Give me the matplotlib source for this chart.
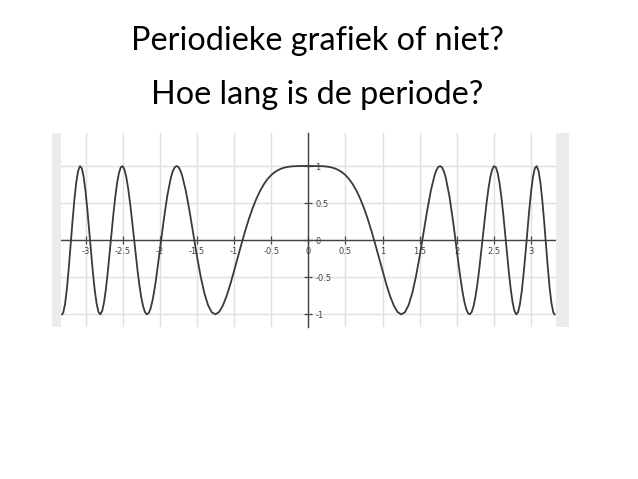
"""Slide: periodic graph question with a cosine-like curve."""

import matplotlib

matplotlib.use("Agg")
import matplotlib.pyplot as plt
from matplotlib.patches import Rectangle

plt.rcParams["axes.unicode_minus"] = False

# curve readings for x >= 0 (the graph is symmetric about the y-axis)
x_half = [
    0.00, 0.05, 0.10, 0.15, 0.20, 0.25, 0.30, 0.35, 0.40, 0.45,
    0.50, 0.55, 0.60, 0.65, 0.70, 0.75, 0.80, 0.85, 0.90, 0.95,
    1.00, 1.05, 1.10, 1.15, 1.20, 1.25, 1.30, 1.35, 1.40, 1.45,
    1.50, 1.55, 1.60, 1.65, 1.70, 1.725, 1.75, 1.775, 1.80, 1.825,
    1.85, 1.90, 1.95, 2.00, 2.025, 2.05, 2.075, 2.10, 2.125, 2.15,
    2.175, 2.20, 2.225, 2.25, 2.275, 2.30, 2.325, 2.35, 2.375, 2.40,
    2.425, 2.45, 2.475, 2.50, 2.525, 2.55, 2.575, 2.60, 2.625, 2.65,
    2.675, 2.70, 2.725, 2.75, 2.775, 2.80, 2.825, 2.85, 2.875, 2.90,
    2.925, 2.95, 2.975, 3.00, 3.025, 3.05, 3.075, 3.10, 3.125, 3.15,
    3.175, 3.20, 3.225, 3.25, 3.275, 3.30, 3.316,
]
y_half = [
    1.000, 1.000, 1.000, 0.999, 0.997, 0.992, 0.984, 0.970, 0.949, 0.919,
    0.878, 0.823, 0.752, 0.664, 0.557, 0.431, 0.287, 0.125, -0.049, -0.232,
    -0.416, -0.593, -0.751, -0.879, -0.966, -1.000, -0.972, -0.876, -0.712, -0.486,
    -0.211, 0.092, 0.396, 0.669, 0.876, 0.945, 0.988, 1.000, 0.981, 0.929,
    0.846, 0.593, 0.247, -0.146, -0.340, -0.523, -0.688, -0.823, -0.924, -0.984,
    -0.999, -0.968, -0.889, -0.765, -0.601, -0.404, -0.183, 0.049, 0.282, 0.501,
    0.693, 0.847, 0.951, 0.998, 0.983, 0.905, 0.768, 0.579, 0.349, 0.092,
    -0.173, -0.429, -0.655, -0.835, -0.953, -1.000, -0.968, -0.859, -0.680, -0.442,
    -0.167, 0.126, 0.410, 0.660, 0.853, 0.970, 0.998, 0.932, 0.776, 0.544,
    0.256, -0.060, -0.372, -0.649, -0.858, -0.978, -1.000,
]

x_ticks = [-3, -2.5, -2, -1.5, -1, -0.5, 0, 0.5, 1, 1.5, 2, 2.5, 3]
x_labels = ["-3", "-2.5", "-2", "-1.5", "-1", "-0.5", "0", "0.5", "1", "1.5", "2", "2.5", "3"]
y_ticks = [-1, -0.5, 0, 0.5, 1]
y_labels = ["-1", "-0.5", "0", "0.5", "1"]

title_lines = ["Periodieke grafiek of niet?", "Hoe lang is de periode?"]

xs = [-v for v in reversed(x_half[1:])] + x_half
ys = list(reversed(y_half[1:])) + y_half

W, H = 638, 479
fig = plt.figure(figsize=(W / 100, H / 100), dpi=100)

# grey side strips of the pasted graph image
for x0, x1 in [(52, 61), (556, 569)]:
    fig.patches.append(
        Rectangle((x0 / W, 1 - 327 / H), (x1 - x0) / W, 194 / H,
                  transform=fig.transFigure, facecolor="#ececec", edgecolor="none")
    )

ax = fig.add_axes([61 / W, 1 - 327 / H, 495 / W, 194 / H])
ax.set_xlim(-3.33, 3.335)
ax.set_ylim(-1.17, 1.445)

ax.plot(xs, ys, color="#3a3a3a", linewidth=1.3, zorder=3)

ax.set_xticks(x_ticks)
ax.set_xticklabels(x_labels)
ax.set_yticks(y_ticks)
ax.set_yticklabels(y_labels)
ax.grid(color="#e0e0e0", linewidth=1.0, zorder=0)
ax.set_axisbelow(True)

# axes through the origin, y labels on the right of the axis
ax.spines["top"].set_visible(False)
ax.spines["left"].set_visible(False)
ax.spines["right"].set_position(("data", 0))
ax.spines["bottom"].set_position(("data", 0))
for side in ["right", "bottom"]:
    ax.spines[side].set_color("#444444")
    ax.spines[side].set_linewidth(1.0)
ax.yaxis.tick_right()
ax.tick_params(axis="both", direction="inout", length=6, width=0.9, color="#444444",
               labelsize=6, labelcolor="#444444")
ax.tick_params(axis="x", pad=2)
ax.tick_params(axis="y", pad=2)

fig.text(0.497, 1 - 50 / H, title_lines[0], ha="center", va="baseline",
         fontsize=23.3, family="Lato", color="black")
fig.text(0.497, 1 - 104 / H, title_lines[1], ha="center", va="baseline",
         fontsize=23.3, family="Lato", color="black")

fig.savefig("out.png", dpi=100)
plt.close(fig)
